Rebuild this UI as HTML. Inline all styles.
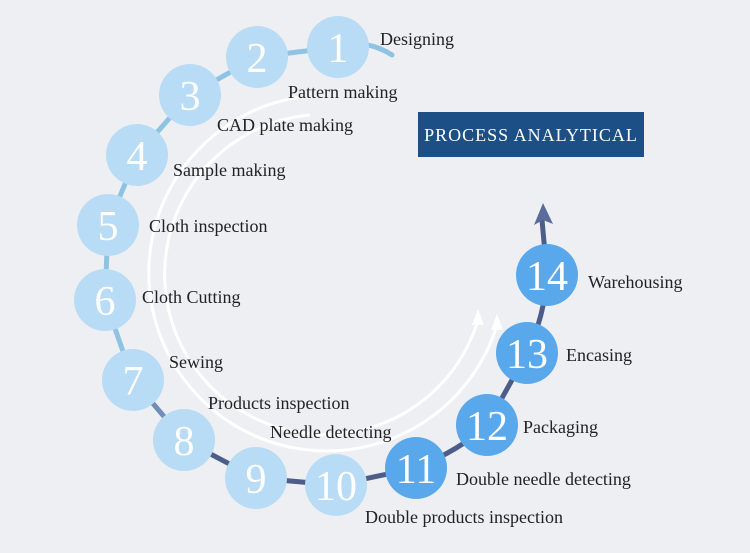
<!DOCTYPE html>
<html><head><style>
body{margin:0;background:#eeeff3;}
svg{display:block;}
.l{font-family:"Liberation Serif",serif;font-size:18px;fill:#222;}
.n{font-family:"Liberation Serif",serif;font-size:42px;fill:#fff;text-anchor:middle;}
</style></head><body>
<svg width="750" height="553" viewBox="0 0 750 553">
<rect width="750" height="553" fill="#eeeff3"/>
<path d="M300 97 A178 178 0 1 0 497 325" fill="none" stroke="#fff" stroke-width="3"/>
<path d="M310 115 A160 160 0 1 0 478 320" fill="none" stroke="#fff" stroke-width="3"/>
<path d="M497 314 L491 330 L503 330 Z" fill="#fff"/>
<path d="M478 309 L472 325 L484 325 Z" fill="#fff"/>
<g fill="none" stroke-width="5" stroke-linecap="round">
<path d="M338 47 Q365 38 392 55" stroke="#8ec3e3"/>
<path d="M338 47 L257 57 L190 95 L137 155 L108 225 L105 300 L133 380" stroke="#8ec3e3"/>
<path d="M133 380 L184 440" stroke="#6f8fb8"/>
<path d="M184 440 L256 478 L336 485 L416 468 Q460 450 487 425 L527 353 Q545 315 547 275 L542 220" stroke="#4d5d8a"/>
</g>
<path d="M543 203 L534 225 L543 220 L553 224 Z" fill="#5a6d9a"/>
<g fill="#b9dcf6">
<circle cx="338" cy="47" r="31"/><circle cx="257" cy="57" r="31"/><circle cx="190" cy="95" r="31"/>
<circle cx="137" cy="155" r="31"/><circle cx="108" cy="225" r="31"/><circle cx="105" cy="300" r="31"/>
<circle cx="133" cy="380" r="31"/><circle cx="184" cy="440" r="31"/><circle cx="256" cy="478" r="31"/>
<circle cx="336" cy="485" r="31"/>
</g>
<g fill="#5aa8ec">
<circle cx="416" cy="468" r="31"/><circle cx="487" cy="425" r="31"/><circle cx="527" cy="353" r="31"/><circle cx="547" cy="275" r="31"/>
</g>
<g class="n">
<text x="338" y="62">1</text><text x="257" y="72">2</text><text x="190" y="110">3</text><text x="137" y="170">4</text>
<text x="108" y="240">5</text><text x="105" y="315">6</text><text x="133" y="395">7</text><text x="184" y="455">8</text>
<text x="256" y="493">9</text><text x="336" y="500">10</text><text x="416" y="483">11</text><text x="487" y="440">12</text>
<text x="527" y="368">13</text><text x="547" y="290">14</text>
</g>
<g class="l">
<text x="380" y="45">Designing</text>
<text x="288" y="98">Pattern making</text>
<text x="217" y="131">CAD plate making</text>
<text x="173" y="176">Sample making</text>
<text x="149" y="232">Cloth inspection</text>
<text x="142" y="303">Cloth Cutting</text>
<text x="169" y="368">Sewing</text>
<text x="208" y="409">Products inspection</text>
<text x="270" y="438">Needle detecting</text>
<text x="365" y="523">Double products inspection</text>
<text x="456" y="485">Double needle detecting</text>
<text x="523" y="433">Packaging</text>
<text x="566" y="361">Encasing</text>
<text x="588" y="288">Warehousing</text>
</g>
<rect x="418" y="112" width="226" height="45" fill="#1c4f86"/>
<text x="531" y="141" text-anchor="middle" style="font-family:'Liberation Serif',serif;font-size:18px;fill:#fff;letter-spacing:1px">PROCESS ANALYTICAL</text>
</svg>
</body></html>
